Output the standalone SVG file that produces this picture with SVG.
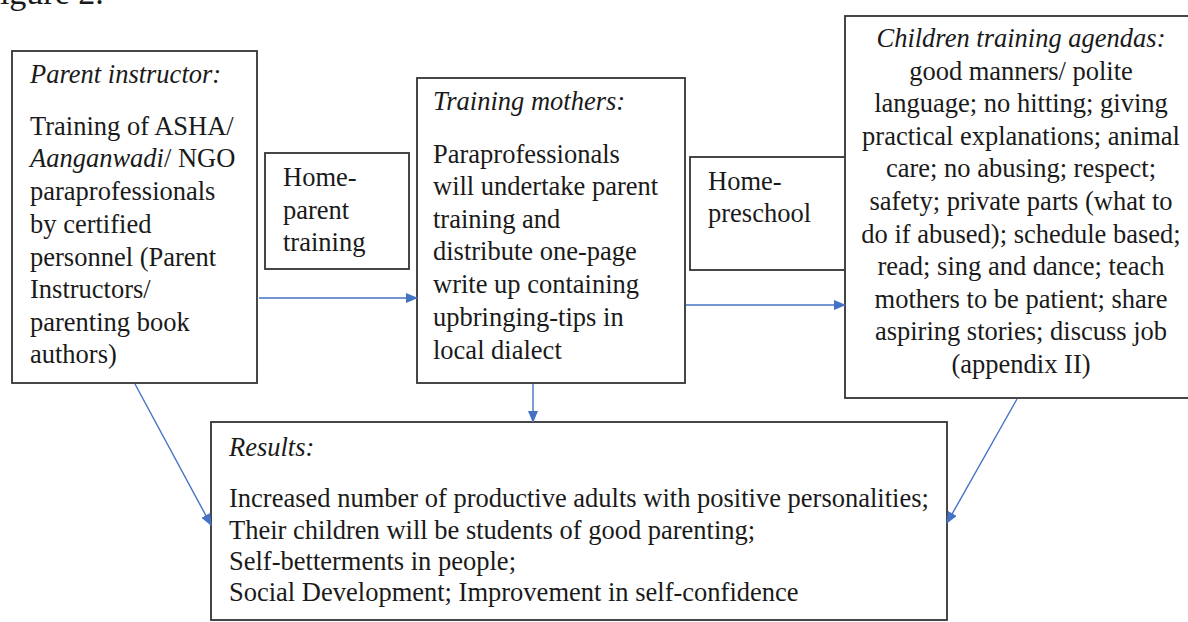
<svg xmlns="http://www.w3.org/2000/svg" width="1188" height="622" viewBox="0 0 1188 622">
<style>
.box{fill:#fff;stroke:#333;stroke-width:1.8}
text{font-family:"Liberation Serif","Times New Roman",serif;font-size:26.5px;fill:#1a1a1a}
.it{font-style:italic}
.c{text-anchor:middle}
.con line{stroke:#4472C4;stroke-width:1.4;fill:none}
</style>
<defs>
<marker id="ah" markerUnits="userSpaceOnUse" markerWidth="12" markerHeight="10" refX="11" refY="5" orient="auto">
<path d="M0,0 L12,5 L0,10 Z" fill="#4472C4"/>
</marker>
</defs>
<rect width="1188" height="622" fill="#fff"/>
<text x="-19" y="4" style="font-size:34px">Figure 2.</text>

<g id="parent-instructor">
<rect class="box" x="12" y="51" width="245" height="332"/>
<text x="30" y="83" class="it">Parent instructor:</text>
<text x="30" y="135">Training of ASHA/</text>
<text x="30" y="167"><tspan class="it">Aanganwadi</tspan>/ NGO</text>
<text x="30" y="200">paraprofessionals</text>
<text x="30" y="233">by certified</text>
<text x="30" y="266">personnel (Parent</text>
<text x="30" y="298">Instructors/</text>
<text x="30" y="331">parenting book</text>
<text x="30" y="363">authors)</text>
</g>

<g id="home-parent-training">
<rect class="box" x="265" y="153" width="144" height="116"/>
<text x="283" y="186">Home-</text>
<text x="283" y="219">parent</text>
<text x="283" y="251">training</text>
</g>

<g id="training-mothers">
<rect class="box" x="417" y="78" width="268" height="305"/>
<text x="433" y="110" class="it">Training mothers:</text>
<text x="433" y="163">Paraprofessionals</text>
<text x="433" y="195">will undertake parent</text>
<text x="433" y="228">training and</text>
<text x="433" y="260">distribute one-page</text>
<text x="433" y="293">write up containing</text>
<text x="433" y="326">upbringing-tips in</text>
<text x="433" y="359">local dialect</text>
</g>

<g id="home-preschool">
<rect class="box" x="690" y="157" width="160" height="113"/>
<text x="708" y="190">Home-</text>
<text x="708" y="222">preschool</text>
</g>

<g id="children-training-agendas">
<rect class="box" x="845" y="16" width="352" height="382"/>
<text x="1021" y="47" class="c it">Children training agendas:</text>
<text x="1021" y="80" class="c">good manners/ polite</text>
<text x="1021" y="112" class="c">language; no hitting; giving</text>
<text x="1021" y="145" class="c">practical explanations; animal</text>
<text x="1021" y="177" class="c">care; no abusing; respect;</text>
<text x="1021" y="210" class="c">safety; private parts (what to</text>
<text x="1021" y="243" class="c">do if abused); schedule based;</text>
<text x="1021" y="275" class="c">read; sing and dance; teach</text>
<text x="1021" y="308" class="c">mothers to be patient; share</text>
<text x="1021" y="340" class="c">aspiring stories; discuss job</text>
<text x="1021" y="373" class="c">(appendix II)</text>
</g>

<g id="results">
<rect class="box" x="211" y="422" width="736" height="198"/>
<text x="229" y="456" class="it">Results:</text>
<text x="229" y="507">Increased number of productive adults with positive personalities;</text>
<text x="229" y="539">Their children will be students of good parenting;</text>
<text x="229" y="570">Self-betterments in people;</text>
<text x="229" y="601">Social Development; Improvement in self-confidence</text>
</g>

<g id="connectors" class="con">
<line x1="259" y1="298" x2="417" y2="298" marker-end="url(#ah)"/>
<line x1="686" y1="305" x2="845" y2="305" marker-end="url(#ah)"/>
<line x1="533" y1="384" x2="533" y2="422" marker-end="url(#ah)"/>
<line x1="135" y1="384" x2="211" y2="525" marker-end="url(#ah)"/>
<line x1="1017" y1="399" x2="947" y2="523" marker-end="url(#ah)"/>
</g>
</svg>
